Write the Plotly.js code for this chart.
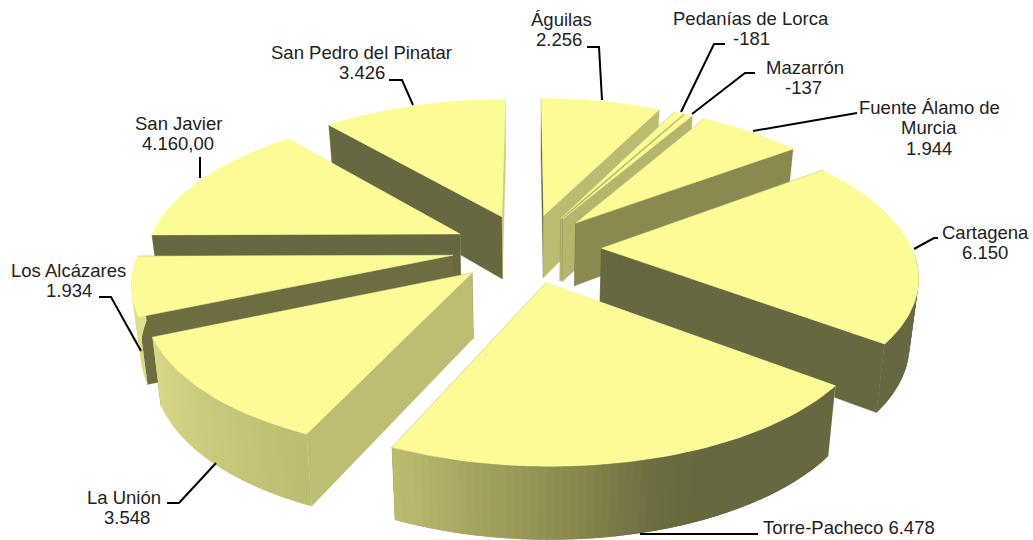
<!DOCTYPE html>
<html><head><meta charset="utf-8">
<script src="https://cdn.plot.ly/plotly-3.0.1.min.js"></script>
<style>html,body{margin:0;padding:0;background:#fff}#c{width:1033px;height:540px}</style>
</head><body><div id="c"></div>
<script>
// ---- data (clockwise from 12 o'clock) ----
const categories = ["Águilas","Pedanías de Lorca","Mazarrón","Fuente Álamo de Murcia","Cartagena","Torre-Pacheco","La Unión","Los Alcázares","San Javier","San Pedro del Pinatar"];
const values = [2256,-181,-137,1944,6150,6478,3548,1934,4160,3426];
const valueLabels = ["2.256","-181","-137","1.944","6.150","6.478","3.548","1.934","4.160,00","3.426"];

// ---- label layout ----
const labelLines = [
 [["Águilas",561,19],["2.256",559,39]],
 [["Pedanías de Lorca",751,18],["-181",751,38]],
 [["Mazarrón",805,67],["-137",803,87]],
 [["Fuente Álamo de",929,107],["Murcia",929,127],["1.944",929,148]],
 [["Cartagena",985,232],["6.150",985,252]],
 [["Torre-Pacheco 6.478",849,527]],
 [["La Unión",124,497],["3.548",127,517]],
 [["Los Alcázares",68,270],["1.934",69,290]],
 [["San Javier",178,123],["4.160,00",178,143]],
 [["San Pedro del Pinatar",361,52],["3.426",362,72]]
];
const leaders = [
 [[587,47],[599,47],[602,100]],
 [[725,44],[714,44],[681,112]],
 [[755,73],[745,73],[692,114]],
 [[857,113],[753,131]],
 [[938,238],[934,238],[914,249]],
 [[640,534],[758,534]],
 [[167,503],[179,503],[216,463]],
 [[99,297],[111,297],[141,351]],
 [[200,157],[200,178]],
 [[389,80],[402,80],[413,105]]
];

// ---- projection of the 3D pie ----
const CX=527, CY=248, R=315, KY=144, DEPTH=6.6, PULL=0.24, THICK=64, TOPCOL="rgb(252,252,150)";
const rad=d=>d*Math.PI/180;
function proj(x,y,down){
  const s=DEPTH/(DEPTH+y);
  const f=x>0?0.985-0.015*y:0.992-0.012*y;
  let sx=CX+x*R*s*f, sy=CY-y*KY*s;
  if(down){ sx=CX+(sx-CX)*0.977; sy+=THICK*(1-0.12*y); }
  return [sx,sy];
}
const stops=[[40,228,228,146],[75,216,216,136],[117,188,188,112],[144,138,138,80],[157,108,108,64],[165,103,103,64],[400,103,103,64]];
function shade(n){
  n=((n%360)+360)%360;
  for(let i=1;i<stops.length;i++) if(n<=stops[i][0]){
    const a=stops[i-1],b=stops[i],t=Math.max(0,(n-a[0])/(b[0]-a[0]));
    return `rgb(${[1,2,3].map(k=>Math.round(a[k]+(b[k]-a[k])*t)).join(",")})`;
  }
  return "rgb(103,103,64)";
}
const total=values.reduce((s,v)=>s+Math.abs(v),0);
let acc=0;
const slices=values.map((v,i)=>{
  const a0=acc/total*360; acc+=Math.abs(v); const a1=acc/total*360;
  const m=(a0+a1)/2;
  return {i,a0,a1,px:PULL*Math.sin(rad(m)),py:PULL*Math.cos(rad(m))};
});
const order=[...slices].sort((p,q)=>q.py-p.py);
const traces=[];
function poly(pts,col,lw){
  traces.push({type:"scatter",mode:"lines",x:pts.map(p=>p[0]),y:pts.map(p=>p[1]),fill:"toself",fillcolor:col,
    line:{color:col,width:lw},hoverinfo:"skip",showlegend:false});
}
for(const s of order){
  const pt=(ang,r)=>[s.px+r*Math.sin(rad(ang)),s.py+r*Math.cos(rad(ang))];
  const wall=(a,b)=>{ const A=proj(a[0],a[1],0),B=proj(b[0],b[1],0),C=proj(b[0],b[1],1),D=proj(a[0],a[1],1); return [A,B,C,D,A]; };
  const ap=[s.px,s.py];
  // radial walls, far one first
  const rad0=[s.a0-90,wall(ap,pt(s.a0,1))], rad1=[s.a1+90,wall(ap,pt(s.a1,1))];
  const radials=[rad0,rad1].sort((p,q)=>Math.cos(rad(q[0]))-Math.cos(rad(p[0])));
  radials.forEach(r=>poly(r[1],shade(r[0]),0.4));
  // outer rim: front-facing bands only, each overlapping the next so no seams show
  const n=Math.max(1,Math.ceil((s.a1-s.a0)/1.2));
  for(let j=0;j<n;j++){
    const t0=s.a0+(s.a1-s.a0)*j/n,t1=s.a0+(s.a1-s.a0)*(j+1)/n,tm=(t0+t1)/2;
    if(Math.cos(rad(tm))>-0.02) continue;
    const over=j<n-1?1.2:0;
    poly(wall(pt(t0,1),pt(t1+over,1)),shade(321-tm),0);
  }
  const top=[proj(s.px,s.py,0)];
  for(let j=0;j<=n;j++){ const q=pt(s.a0+(s.a1-s.a0)*j/n,1); top.push(proj(q[0],q[1],0)); }
  top.push(top[0]);
  poly(top,TOPCOL,0.5);
}
leaders.forEach(l=>traces.push({type:"scatter",mode:"lines",x:l.map(p=>p[0]),y:l.map(p=>p[1]),
  line:{color:"#000",width:2},hoverinfo:"skip",showlegend:false}));
const annotations=[];
labelLines.forEach(ls=>ls.forEach(l=>annotations.push({x:l[1],y:l[2],xref:"x",yref:"y",text:l[0],showarrow:false,
  xanchor:"center",yanchor:"middle",font:{family:"Liberation Sans, Arial, sans-serif",size:18.5,color:"#222"}})));
const hidden={visible:false,fixedrange:true};
Plotly.newPlot("c",traces,{
  width:1033,height:540,margin:{l:0,r:0,t:0,b:0},paper_bgcolor:"#fff",plot_bgcolor:"#fff",showlegend:false,
  xaxis:{...hidden,range:[0,1033]},yaxis:{...hidden,range:[540,0]},annotations
},{displayModeBar:false,staticPlot:true});
</script></body></html>
